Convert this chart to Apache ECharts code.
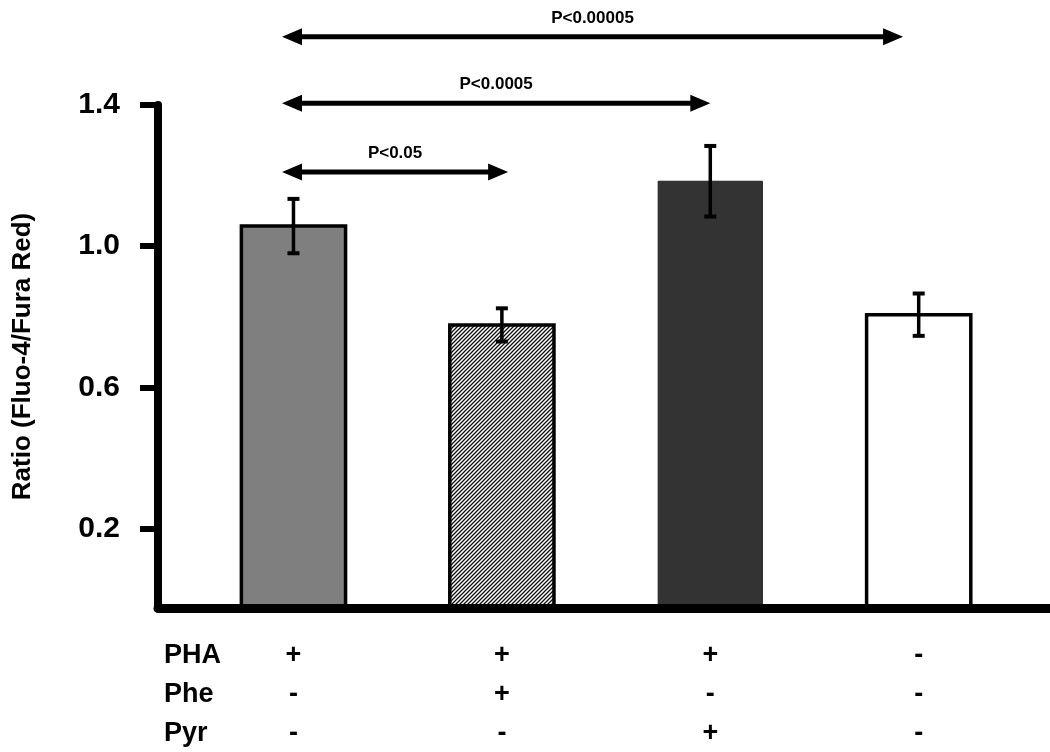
<!DOCTYPE html>
<html>
<head>
<meta charset="utf-8">
<script src="https://cdn.jsdelivr.net/npm/echarts@6/dist/echarts.min.js"></script>
<style>html,body{margin:0;padding:0;background:#fff;}#c{width:1050px;height:752px;}</style>
</head>
<body>
<div id="c"></div>
<script>
// ---- data ----
const groupX = [1, 2, 3, 4];
const means = [1.057, 0.777, 1.184, 0.806];
const errs = [0.077, 0.047, 0.100, 0.060];
const pha = ['+', '+', '+', '-'];
const phe = ['-', '+', '-', '-'];
const pyr = ['-', '-', '+', '-'];
const rowNames = ['PHA', 'Phe', 'Pyr'];
const yTicks = [0.2, 0.6, 1.0, 1.4];
const sigFrom = [0.945, 0.945, 0.945];
const sigTo = [2.03, 3.0, 3.925];
const sigY = [1.21, 1.405, 1.593];
const sigText = ['P<0.05', 'P<0.0005', 'P<0.00005'];
const yMin = -0.025, yMax = 1.4;
const xMin = 0.35, xMax = 4.63;

// hatch pattern
const hatch = document.createElement('canvas');
hatch.width = 4; hatch.height = 4;
(function () {
  const g = hatch.getContext('2d');
  g.fillStyle = '#fff'; g.fillRect(0, 0, 4, 4);
  g.strokeStyle = '#111'; g.lineWidth = 1.3;
  g.beginPath();
  g.moveTo(-1, 5); g.lineTo(5, -1);
  g.moveTo(-3, 3); g.lineTo(3, -3);
  g.moveTo(1, 7); g.lineTo(7, 1);
  g.stroke();
})();

const barStyles = [
  { fill: '#7f7f7f', stroke: '#000', lineWidth: 3.5 },
  { fill: { image: hatch, repeat: 'repeat' }, stroke: '#000', lineWidth: 3.5 },
  { fill: '#333333', stroke: '#222', lineWidth: 1 },
  { fill: '#ffffff', stroke: '#000', lineWidth: 3.5 }
];

const barData = groupX.map((x, i) => [x, means[i], errs[i]]);
const sigData = sigFrom.map((a, i) => [a, sigTo[i], sigY[i]]);

const FONT = '"Liberation Sans", Arial, Helvetica, sans-serif';

const chart = echarts.init(document.getElementById('c'));
chart.setOption({
  animation: false,
  backgroundColor: '#fff',
  grid: { left: 158, right: 0, top: 105, bottom: 144, containLabel: false, outerBoundsMode: 'none' },
  xAxis: {
    type: 'value', min: xMin, max: xMax, z: 10,
    axisLine: { show: true, onZero: false, lineStyle: { color: '#000', width: 9 } },
    axisTick: { show: false },
    splitLine: { show: false },
    axisLabel: {
      customValues: groupX,
      margin: 28,
      formatter: function (v) {
        const i = groupX.indexOf(Math.round(v));
        if (i < 0) return '';
        return '{s|' + pha[i] + '}\n{s|' + phe[i] + '}\n{s|' + pyr[i] + '}';
      },
      rich: { s: { fontFamily: FONT, fontWeight: 'bold', fontSize: 27, color: '#000', lineHeight: 39, align: 'center' } }
    }
  },
  yAxis: {
    type: 'value', min: yMin, max: yMax, z: 10,
    name: 'Ratio (Fluo-4/Fura Red)',
    nameLocation: 'middle', nameRotate: 90, nameGap: 122,
    nameTextStyle: { fontFamily: FONT, fontWeight: 'bold', fontSize: 26, color: '#000' },
    axisLine: { show: true, onZero: false, lineStyle: { color: '#000', width: 8 } },
    axisTick: { show: true, customValues: yTicks, length: 18, lineStyle: { color: '#000', width: 6 } },
    splitLine: { show: false },
    axisLabel: {
      customValues: yTicks, margin: 38,
      formatter: v => v.toFixed(1),
      fontFamily: FONT, fontWeight: 'bold', fontSize: 30, color: '#000'
    }
  },
  graphic: rowNames.map((n, i) => ({
    type: 'text', left: 164, top: 642 + i * 39,
    style: { text: n, fontFamily: FONT, fontWeight: 'bold', fontSize: 27, fill: '#000' }
  })),
  series: [
    {
      type: 'custom', name: 'bars', z: 2,
      data: barData,
      renderItem: function (params, api) {
        const x = api.value(0), v = api.value(1), e = api.value(2);
        const i = params.dataIndex;
        const w = api.size([0.5, 0])[0];
        const base = api.coord([x, yMin]);
        const top = api.coord([x, v]);
        const hi = api.coord([x, v + e]);
        const lo = api.coord([x, v - e]);
        const st = barStyles[i];
        return {
          type: 'group',
          children: [
            { type: 'rect', shape: { x: top[0] - w / 2, y: top[1], width: w, height: base[1] - top[1] },
              style: { fill: st.fill, stroke: st.stroke, lineWidth: st.lineWidth } },
            { type: 'line', shape: { x1: hi[0], y1: hi[1], x2: lo[0], y2: lo[1] }, style: { stroke: '#000', lineWidth: 3.5 } },
            { type: 'line', shape: { x1: hi[0] - 6, y1: hi[1], x2: hi[0] + 6, y2: hi[1] }, style: { stroke: '#000', lineWidth: 4 } },
            { type: 'line', shape: { x1: lo[0] - 6, y1: lo[1], x2: lo[0] + 6, y2: lo[1] }, style: { stroke: '#000', lineWidth: 4 } }
          ]
        };
      }
    },
    {
      type: 'custom', name: 'sig', z: 3, clip: false,
      data: sigData,
      renderItem: function (params, api) {
        const p1 = api.coord([api.value(0), api.value(2)]);
        const p2 = api.coord([api.value(1), api.value(2)]);
        const L = 20, H = 8.5;
        return {
          type: 'group',
          children: [
            { type: 'line', shape: { x1: p1[0] + L - 2, y1: p1[1], x2: p2[0] - L + 2, y2: p2[1] }, style: { stroke: '#000', lineWidth: 5 } },
            { type: 'polygon', shape: { points: [[p1[0], p1[1]], [p1[0] + L, p1[1] - H], [p1[0] + L, p1[1] + H]] }, style: { fill: '#000' } },
            { type: 'polygon', shape: { points: [[p2[0], p2[1]], [p2[0] - L, p2[1] - H], [p2[0] - L, p2[1] + H]] }, style: { fill: '#000' } },
            { type: 'text', x: (p1[0] + p2[0]) / 2, y: p1[1] - 10,
              style: { text: sigText[params.dataIndex], fontFamily: FONT, fontWeight: 'bold', fontSize: 17, fill: '#000', align: 'center', verticalAlign: 'bottom' } }
          ]
        };
      }
    }
  ]
});
</script>
</body>
</html>
